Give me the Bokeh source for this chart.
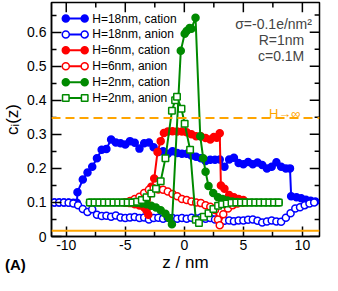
from bokeh.plotting import figure
from bokeh.models import Range1d, Span, Label, FixedTicker, Div
from bokeh.layouts import column
from bokeh.embed import file_html
from bokeh.resources import INLINE

# ---------------- data ----------------
z18_cat = [-11.0, -10.6, -10.2, -9.8, -9.4, -9.1, -9.05, -8.6, -8.2, -7.8, -7.4, -7.0, -6.6, -6.2,
           -5.8, -5.4, -5.0, -4.6, -4.2, -3.8, -3.4, -3.0, -2.6, -2.2, -1.8, -1.4, -1.0, -0.6, -0.2,
           0.2, 0.6, 1.0, 1.4, 1.8, 2.2, 2.6, 3.0, 3.4, 3.8, 4.2, 4.6, 5.0, 5.4, 5.8, 6.2, 6.6, 7.0,
           7.4, 7.8, 8.2, 8.6, 8.95, 9.05, 9.5, 9.9, 10.3, 10.7, 11.1]
c18_cat = [0.100, 0.100, 0.100, 0.100, 0.099, 0.099, 0.130, 0.167, 0.188, 0.205, 0.230, 0.255, 0.257,
           0.285, 0.276, 0.274, 0.270, 0.280, 0.275, 0.258, 0.274, 0.276, 0.262, 0.248, 0.250, 0.243,
           0.250, 0.245, 0.243, 0.243, 0.238, 0.234, 0.230, 0.222, 0.225, 0.225, 0.226, 0.205, 0.226,
           0.231, 0.216, 0.212, 0.219, 0.212, 0.217, 0.210, 0.200, 0.205, 0.218, 0.205, 0.200, 0.200,
           0.118, 0.115, 0.112, 0.108, 0.105, 0.103]

z18_an = [-11.0, -10.6, -10.2, -9.8, -9.4, -9.0, -8.6, -8.2, -7.8, -7.4, -7.0, -6.6, -6.2, -5.8, -5.4,
          -5.0, -4.6, -4.2, -3.8, -3.4, -3.0, -2.6, -2.2, -1.8, -1.4, -1.0, -0.6, -0.2, 0.2, 0.6, 1.0,
          1.4, 1.8, 2.2, 2.6, 3.0, 3.4, 3.8, 4.2, 4.6, 5.0, 5.4, 5.8, 6.2, 6.6, 7.0, 7.4, 7.8, 8.2,
          8.6, 9.0, 9.4, 9.8, 10.2, 10.6, 11.0]
c18_an = [0.100, 0.100, 0.100, 0.099, 0.097, 0.092, 0.081, 0.072, 0.080, 0.064, 0.060, 0.061, 0.058,
          0.062, 0.056, 0.054, 0.056, 0.057, 0.054, 0.056, 0.050, 0.054, 0.055, 0.052, 0.055, 0.054,
          0.052, 0.054, 0.052, 0.055, 0.053, 0.056, 0.052, 0.054, 0.050, 0.048, 0.046, 0.047, 0.045,
          0.047, 0.047, 0.049, 0.050, 0.046, 0.041, 0.044, 0.047, 0.044, 0.043, 0.055, 0.068, 0.082,
          0.086, 0.092, 0.097, 0.100]

z6_cat = [-5.0, -4.6, -4.2, -3.8, -3.4, -3.2, -3.05, -2.8, -2.55, -2.27, -2.0, -1.73, -1.4, -1.0, -0.6,
          -0.2, 0.2, 0.6, 1.0, 1.4, 1.8, 2.2, 2.5, 2.75, 3.0, 3.1, 3.4, 3.8, 4.2, 4.6, 5.0]
c6_cat = [0.100, 0.098, 0.095, 0.091, 0.085, 0.076, 0.064, 0.146, 0.170, 0.248, 0.280, 0.304, 0.308,
          0.309, 0.308, 0.308, 0.306, 0.300, 0.294, 0.294, 0.289, 0.285, 0.292, 0.290, 0.303, 0.150,
          0.140, 0.122, 0.115, 0.110, 0.107]

z6_an = [-5.0, -4.6, -4.2, -3.8, -3.4, -3.0, -2.6, -2.2, -1.8, -1.4, -1.0, -0.6, -0.2, 0.2, 0.6, 1.0,
         1.4, 1.8, 2.2, 2.6, 2.85, 3.0, 3.3, 3.7, 4.1, 4.5, 5.0]
c6_an = [0.100, 0.104, 0.110, 0.117, 0.128, 0.137, 0.142, 0.138, 0.137, 0.132, 0.125, 0.118, 0.110,
         0.107, 0.103, 0.100, 0.098, 0.092, 0.087, 0.078, 0.050, 0.033, 0.065, 0.082, 0.092, 0.097, 0.100]

z2_cat = [-8.0, -7.6, -7.2, -6.8, -6.4, -6.0, -5.6, -5.2, -4.8, -4.4, -4.0, -3.6, -3.2, -2.8, -2.4,
          -2.0, -1.6, -1.3, -1.05, -0.3, 0.03, 0.2, 0.45, 0.6, 0.95, 1.35, 1.6, 1.8, 2.05, 2.45, 2.85,
          3.25, 3.65, 4.05, 4.45, 4.85, 5.25, 5.65, 6.05, 6.45, 6.85, 7.25, 7.65, 8.0]
c2_cat = [0.100, 0.100, 0.100, 0.100, 0.100, 0.100, 0.100, 0.100, 0.100, 0.100, 0.099, 0.097, 0.095,
          0.090, 0.085, 0.077, 0.067, 0.054, 0.036, 0.545, 0.595, 0.603, 0.612, 0.610, 0.642, 0.294,
          0.230, 0.190, 0.148, 0.128, 0.115, 0.110, 0.106, 0.103, 0.101, 0.100, 0.100, 0.100, 0.100,
          0.100, 0.100, 0.100, 0.100, 0.100]

z2_an = [-8.0, -7.6, -7.2, -6.8, -6.4, -6.0, -5.6, -5.2, -4.8, -4.4, -4.0, -3.6, -3.2, -2.8, -2.4,
         -2.0, -1.6, -1.05, -0.78, -0.62, -0.24, 0.03, 0.49, 0.97, 1.24, 1.65, 2.05, 2.46, 2.86, 3.2,
         3.6, 4.0, 4.4, 4.8, 5.2, 5.6, 6.0, 6.4, 6.8, 7.2, 7.6, 8.0]
c2_an = [0.100, 0.100, 0.100, 0.100, 0.100, 0.100, 0.100, 0.100, 0.100, 0.100, 0.102, 0.107, 0.115,
         0.126, 0.140, 0.162, 0.230, 0.369, 0.400, 0.410, 0.375, 0.331, 0.255, 0.049, 0.040, 0.058,
         0.068, 0.081, 0.090, 0.095, 0.097, 0.099, 0.100, 0.100, 0.100, 0.100, 0.100, 0.100, 0.100,
         0.100, 0.100, 0.100]

bulk_low = 0.017      # solid orange line
bulk_inf = 0.348      # dashed orange line (H -> infinity)

x_ticks = [-10, -5, 0, 5, 10]
x_tick_labels = ["-10", "-5", "0", "5", "10"]
x_minor = [-7.5, -2.5, 2.5, 7.5]
y_ticks = [0, 0.1, 0.2, 0.3, 0.4, 0.5, 0.6]
y_tick_labels = ["0", "0.1", "0.2", "0.3", "0.4", "0.5", "0.6"]
y_minor = [0.05, 0.15, 0.25, 0.35, 0.45, 0.55, 0.65]

series = [
    ("H=18nm, cation", z18_cat, c18_cat, "#0000ff", "circle", True),
    ("H=18nm, anion", z18_an, c18_an, "#0000ff", "circle", False),
    ("H=6nm, cation", z6_cat, c6_cat, "#ff0000", "circle", True),
    ("H=6nm, anion", z6_an, c6_an, "#ff0000", "circle", False),
    ("H=2nm, cation", z2_cat, c2_cat, "#008a00", "circle", True),
    ("H=2nm, anion", z2_an, c2_an, "#008a00", "square", False),
]

FONT = "Liberation Sans"
ORANGE = "#ffa500"
X0, X1 = -11.25, 11.45
Y0, Y1 = 0.0, 0.687

p = figure(width=322, height=274, x_range=Range1d(X0, X1), y_range=Range1d(Y0, Y1),
           output_backend="svg", toolbar_location=None,
           min_border_left=46, min_border_right=3, min_border_top=2, min_border_bottom=36)
p.grid.visible = False
p.outline_line_color = "black"
p.outline_line_width = 1.5

for ax in (p.xaxis[0], p.yaxis[0]):
    ax.axis_line_width = 1.5
    ax.major_tick_line_width = 1.5
    ax.minor_tick_line_width = 1.5
    ax.major_tick_in = 10
    ax.major_tick_out = 0
    ax.minor_tick_in = 5
    ax.minor_tick_out = 0
    ax.major_label_text_font = FONT
    ax.major_label_text_font_size = "14px"
    ax.major_label_text_color = "black"
    ax.major_label_text_line_height = 1.0
    ax.axis_label_text_font = FONT
    ax.axis_label_text_font_size = "17px"
    ax.axis_label_text_font_style = "normal"
    ax.axis_label_text_color = "black"
    ax.axis_label_text_line_height = 1.0

p.xaxis.ticker = FixedTicker(ticks=x_ticks, minor_ticks=x_minor)
p.yaxis.ticker = FixedTicker(ticks=y_ticks, minor_ticks=y_minor)
p.xaxis.major_label_overrides = dict(zip(x_ticks, x_tick_labels))
p.yaxis.major_label_overrides = dict(zip(y_ticks, y_tick_labels))
p.xaxis.axis_label = "z / nm"
p.yaxis.axis_label = "cᵢ(z)"
p.xaxis.major_label_standoff = 3
p.xaxis.axis_label_standoff = 0
p.yaxis.major_label_standoff = 5
p.yaxis.axis_label_standoff = 2

# mirrored inward ticks on the top and right frame edges
maj_y, min_y = 10 / 345.0, 5 / 345.0
maj_x, min_x = 10 / 12.1, 5 / 12.1
p.segment(x0=x_ticks, y0=[Y1] * len(x_ticks), x1=x_ticks, y1=[Y1 - maj_y] * len(x_ticks),
          line_color="black", line_width=1.5)
p.segment(x0=x_minor, y0=[Y1] * len(x_minor), x1=x_minor, y1=[Y1 - min_y] * len(x_minor),
          line_color="black", line_width=1.5)
p.segment(x0=[X1] * len(y_ticks), y0=y_ticks, x1=[X1 - maj_x] * len(y_ticks), y1=y_ticks,
          line_color="black", line_width=1.5)
p.segment(x0=[X1] * len(y_minor), y0=y_minor, x1=[X1 - min_x] * len(y_minor), y1=y_minor,
          line_color="black", line_width=1.5)

p.add_layout(Span(location=bulk_low, dimension="width", line_color=ORANGE, line_width=2))
p.add_layout(Span(location=bulk_inf, dimension="width", line_color=ORANGE, line_width=2,
                  line_dash="9 5"))

for name, z, c, color, marker, filled in series:
    p.line(z, c, line_color=color, line_width=2)
    p.scatter(z, c, marker=marker, size=7 if marker == "circle" else 6.5,
              line_color=color, fill_color=color if filled else "white", line_width=1.5)

# manual legend (two markers per sample line, like the reference)
leg_x0, leg_x1, leg_tx = -10.04, -8.44, -7.80
leg_y0, leg_dy = 0.640, 0.0467
for i, (name, z, c, color, marker, filled) in enumerate(series):
    yy = leg_y0 - i * leg_dy
    p.line([leg_x0, leg_x1], [yy, yy], line_color=color, line_width=2)
    p.scatter([leg_x0, leg_x1], [yy, yy], marker=marker, size=7 if marker == "circle" else 6.5,
              line_color=color, fill_color=color if filled else "white", line_width=1.5)
    p.add_layout(Label(x=leg_tx, y=yy, text=name, text_font=FONT, text_font_size="12px",
                       text_baseline="middle", text_color="black"))

p.add_layout(Label(x=10.81, y=0.624, text="σ=-0.1e/nm²", text_font=FONT, text_font_size="14px",
                   text_align="right", text_baseline="alphabetic"))
p.add_layout(Label(x=10.16, y=0.577, text="R=1nm", text_font=FONT, text_font_size="14px",
                   text_align="right", text_baseline="alphabetic"))
p.add_layout(Label(x=10.16, y=0.531, text="c=0.1M", text_font=FONT, text_font_size="14px",
                   text_align="right", text_baseline="alphabetic"))
p.add_layout(Label(x=7.17, y=0.360, text="H→∞", text_font=FONT, text_font_size="13px",
                   text_color=ORANGE, text_baseline="alphabetic"))

# panel tag "(A)" in the bottom-left corner, taken out of the flow so the page does not grow
tag = Div(text='<span style="font-family:\'Liberation Sans\';font-size:15px;font-weight:bold;'
               'color:black;line-height:18px">(A)</span>',
          width=30, height=18,
          styles={"position": "absolute", "left": "0px", "top": "251px"})

layout = column(p, tag, spacing=0)
open("out.html", "w").write(file_html(layout, INLINE))
